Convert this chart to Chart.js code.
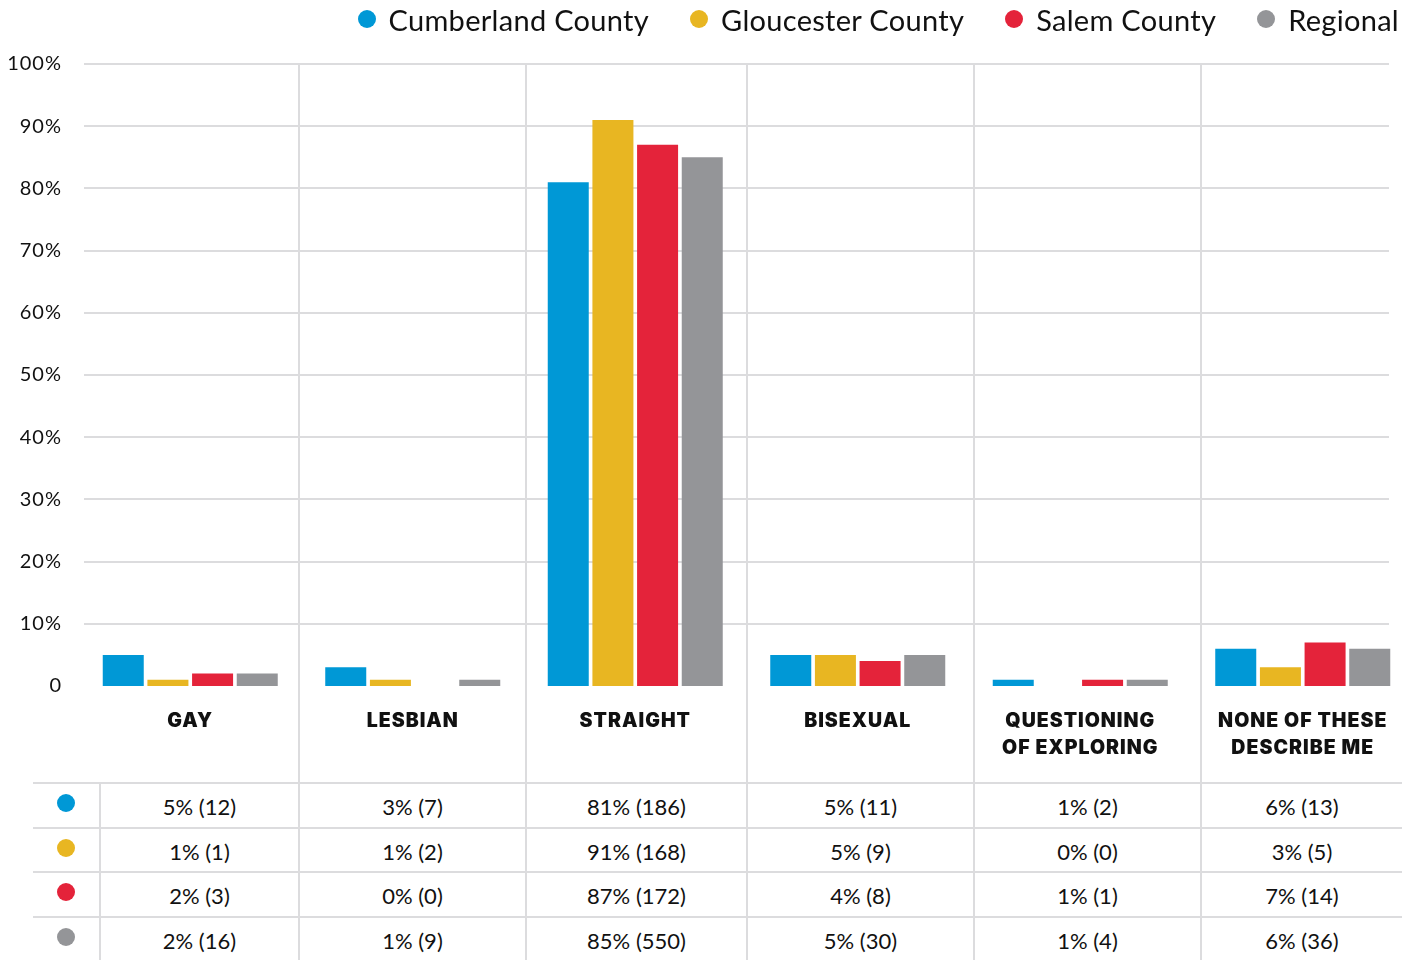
<!DOCTYPE html>
<html>
<head>
<meta charset="utf-8">
<title>Sexual orientation by county</title>
<script src="https://cdn.jsdelivr.net/npm/chart.js@4.4.1/dist/chart.umd.min.js"></script>
<style>
  html, body { margin: 0; padding: 0; background: #fff; }
  body { width: 1418px; height: 960px; position: relative; overflow: hidden;
         font-family: Lato, "Noto Sans", sans-serif; color: #111; }
  #wrap { position: absolute; left: 0; top: 0; width: 1418px; height: 782px; }
  #legend { position: absolute; top: 0; right: 19px; height: 38px; display: flex;
            align-items: center; font-size: 29px; letter-spacing: 0.3px; white-space: nowrap; z-index: 2; }
  .li { display: flex; align-items: center; margin-left: 41px; }
  .li:first-child { margin-left: 0; }
  .dot { display: inline-block; width: 18px; height: 18px; border-radius: 50%; }
  .li .dot { margin-right: 13px; }
  #tbl { position: absolute; left: 33px; top: 782px; width: 1369px; border-collapse: collapse;
         table-layout: fixed; font-size: 22px; }
  #tbl tr { height: 44.5px; }
  #tbl td { padding: 3px 0 0 0; text-align: center; vertical-align: middle;
            border-top: 2px solid #dcdcde; border-left: 2px solid #dcdcde; }
  #tbl td:first-child { padding-top: 0; padding-bottom: 3px; }
  #tbl tr:last-child td { border-bottom: 2px solid #dcdcde; }
  #tbl td:first-child { border-left: none; }
</style>
</head>
<body>
<div id="legend"></div>
<div id="wrap"><canvas id="chart" width="1418" height="782"></canvas></div>
<table id="tbl">
  <colgroup>
    <col style="width:67px"><col style="width:199px"><col style="width:227px">
    <col style="width:221px"><col style="width:227px"><col style="width:227px"><col style="width:201px">
  </colgroup>
  <tbody></tbody>
</table>
<script>
// Response categories (multi-line labels as arrays)
const categories = [
  ['GAY'], ['LESBIAN'], ['STRAIGHT'], ['BISEXUAL'],
  ['QUESTIONING', 'OF EXPLORING'], ['NONE OF THESE', 'DESCRIBE ME']
];

// Series names and colours
const seriesNames = ['Cumberland County', 'Gloucester County', 'Salem County', 'Regional'];
const seriesColors = ['#0098d6', '#e8b622', '#e4233a', '#949598'];

// Share of respondents (%)
const cumberlandPct = [5, 3, 81, 5, 1, 6];
const gloucesterPct = [1, 1, 91, 5, 0, 3];
const salemPct      = [2, 0, 87, 4, 1, 7];
const regionalPct   = [2, 1, 85, 5, 1, 6];

// Respondent counts
const cumberlandN = [12, 7, 186, 11, 2, 13];
const gloucesterN = [1, 2, 168, 9, 0, 5];
const salemN      = [3, 0, 172, 8, 1, 14];
const regionalN   = [16, 9, 550, 30, 4, 36];

// Y axis ticks
const yTicks = [0, 10, 20, 30, 40, 50, 60, 70, 80, 90, 100];

const pctSeries = [cumberlandPct, gloucesterPct, salemPct, regionalPct];
const countSeries = [cumberlandN, gloucesterN, salemN, regionalN];

const GRID = '#dcdcde';
const TEXT = '#111111';

// Legend
const legendEl = document.getElementById('legend');
seriesNames.forEach((name, i) => {
  const item = document.createElement('div');
  item.className = 'li';
  const dot = document.createElement('span');
  dot.className = 'dot';
  dot.style.background = seriesColors[i];
  const label = document.createElement('span');
  label.textContent = name;
  item.appendChild(dot);
  item.appendChild(label);
  legendEl.appendChild(item);
});

// Value table under the chart
const tbody = document.querySelector('#tbl tbody');
pctSeries.forEach((pcts, s) => {
  const tr = document.createElement('tr');
  const keyCell = document.createElement('td');
  const dot = document.createElement('span');
  dot.className = 'dot';
  dot.style.background = seriesColors[s];
  keyCell.appendChild(dot);
  tr.appendChild(keyCell);
  pcts.forEach((p, c) => {
    const td = document.createElement('td');
    td.textContent = p + '% (' + countSeries[s][c] + ')';
    tr.appendChild(td);
  });
  tbody.appendChild(tr);
});

// Horizontal gridlines and the column dividers that continue into the table
const framePlugin = {
  id: 'frame',
  beforeDraw(chart) {
    // slightly tracked canvas text for the axis labels
    chart.ctx.letterSpacing = '1px';
  },
  beforeDatasetsDraw(chart) {
    const { ctx, chartArea, scales } = chart;
    const y = scales.y;
    ctx.save();
    ctx.strokeStyle = GRID;
    ctx.lineWidth = 2;
    y.ticks.forEach(t => {
      if (t.value === 0) return;
      const py = Math.round(y.getPixelForValue(t.value));
      ctx.beginPath();
      ctx.moveTo(chartArea.left + 5, py);
      ctx.lineTo(chartArea.right - 25, py);
      ctx.stroke();
    });
    const canvasLeft = chart.canvas.getBoundingClientRect().left;
    const cells = document.querySelectorAll('#tbl tr:first-child td');
    for (let i = 2; i < cells.length; i++) {
      const px = Math.round(cells[i].getBoundingClientRect().left - canvasLeft);
      ctx.beginPath();
      ctx.moveTo(px, chartArea.top - 1);
      ctx.lineTo(px, chart.height);
      ctx.stroke();
    }
    ctx.restore();
  }
};

new Chart(document.getElementById('chart'), {
  type: 'bar',
  data: {
    labels: categories,
    datasets: seriesNames.map((name, i) => ({
      label: name,
      data: pctSeries[i],
      backgroundColor: seriesColors[i],
      borderWidth: 0,
      categoryPercentage: 0.803,
      barPercentage: 0.918
    }))
  },
  options: {
    responsive: false,
    devicePixelRatio: 1,
    animation: false,
    layout: { padding: { top: 64, right: 4, bottom: 0, left: 0 } },
    plugins: { legend: { display: false }, tooltip: { enabled: false } },
    scales: {
      x: {
        grid: { display: false, drawTicks: false },
        border: { display: false },
        ticks: {
          color: TEXT,
          padding: 22,
          maxRotation: 0,
          autoSkip: false,
          font: { family: 'Inter', size: 19.5, weight: '900', lineHeight: 1.38 }
        },
        afterFit(scale) { scale.height = 96; }
      },
      y: {
        min: 0,
        max: 100,
        afterBuildTicks(scale) { scale.ticks = yTicks.map(v => ({ value: v })); },
        grid: { display: false, drawTicks: false },
        border: { display: false },
        ticks: {
          color: TEXT,
          padding: 17,
          font: { family: 'Lato', size: 20 },
          callback: v => (v === 0 ? '0' : v + '%')
        },
        afterFit(scale) { scale.width = 79; }
      }
    }
  },
  plugins: [framePlugin]
});
</script>
</body>
</html>
